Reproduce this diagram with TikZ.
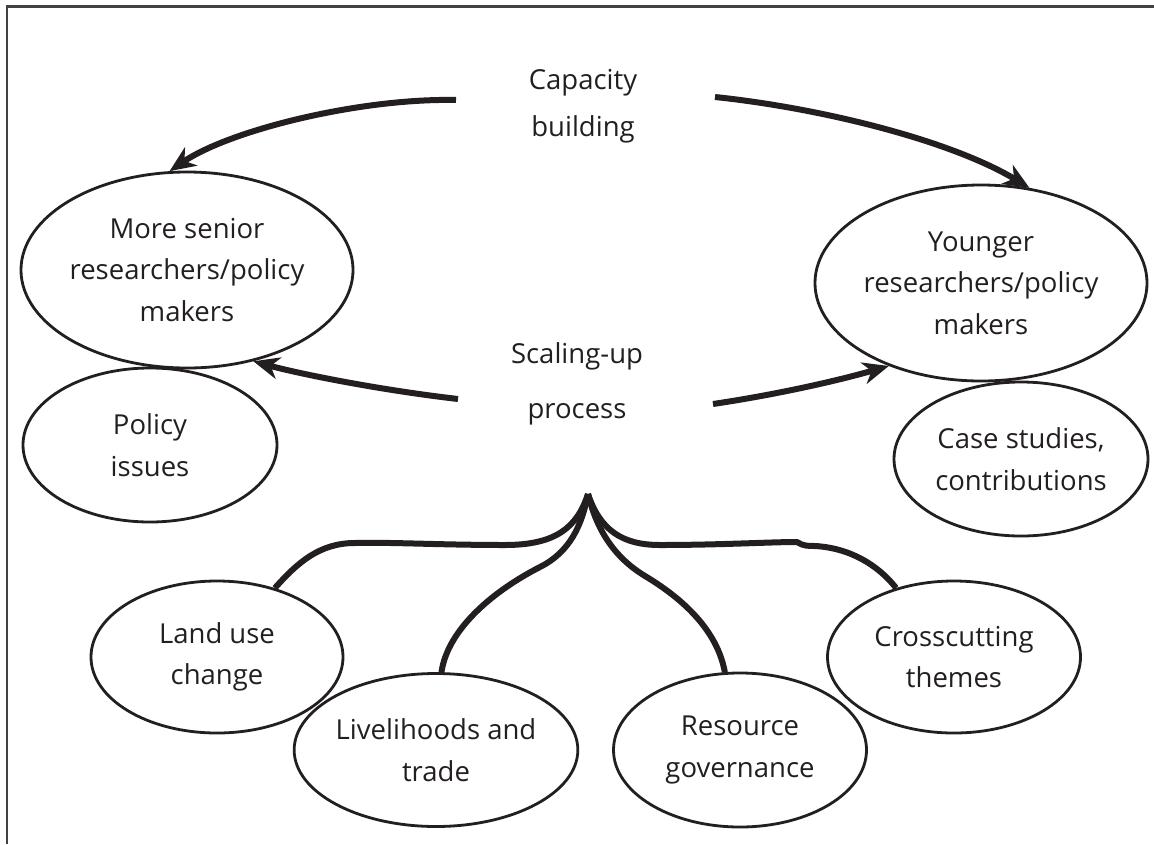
\documentclass[tikz,border=0pt]{standalone}
\usepackage{fontspec}
\setmainfont{Open Sans}
\usetikzlibrary{shapes.geometric,arrows.meta}
\definecolor{ink}{HTML}{231F20}
\begin{document}
\begin{tikzpicture}[x=1pt,y=-1pt,
  bub/.style={ellipse,draw=ink,line width=2.8pt,inner sep=0pt,align=center,
    text=ink,font=\fontsize{27.5}{41.5}\selectfont},
  lbl/.style={align=center,text=ink,font=\fontsize{27.5}{47}\selectfont},
  flow/.style={draw=ink,line width=6pt,-{Stealth[length=26pt,width=22pt,inset=8pt]}},
  branch/.style={draw=ink,line width=6pt,line join=round}
]
\useasboundingbox (0,0) rectangle (1154,844);
% open frame: top and left edges only
\draw[line width=2.5pt,draw=ink!85] (7,844) -- (7,6.5) -- (1154,6.5);

% central labels
\node[lbl] (cap) at (583,106) {Capacity\\building};
\node[lbl] (scale) at (577,384) {Scaling-up\\[8pt]process};

% groups of people
\node[bub,minimum width=328pt,minimum height=196pt] (senior) at (187,270)
  {More senior\\researchers/policy\\makers};
\node[bub,minimum width=332pt,minimum height=196pt] (younger) at (981,283)
  {Younger\\researchers/policy\\makers};
\node[bub,minimum width=254pt,minimum height=154pt] (policy) at (150,445)
  {Policy\\issues};
\node[bub,minimum width=254pt,minimum height=154pt] (cases) at (1021,459)
  {Case studies,\\contributions};

% themes
\node[bub,minimum width=252pt,minimum height=152pt] (land) at (217,657)
  {Land use\\change};
\node[bub,minimum width=252pt,minimum height=153pt] (live) at (436,750)
  {Livelihoods and\\trade};
\node[bub,minimum width=253pt,minimum height=154pt] (res) at (740,750)
  {Resource\\governance};
\node[bub,minimum width=253pt,minimum height=152pt] (cross) at (954,657)
  {Crosscutting\\themes};

% arrow start points beside the central labels
\coordinate (capL) at (456,100);
\coordinate (capR) at (715,97);
\coordinate (scL) at (458,399);
\coordinate (scR) at (713,404);
\coordinate (hub) at (588,494);

% capacity building arrows
\draw[flow] (capL) .. controls (360,98) and (230,130) .. (senior.100);
\draw[flow] (capR) .. controls (820,108) and (950,140) .. (younger.63);

% scaling-up arrows
\draw[flow] (scL) .. controls (380,390) and (300,374) .. (senior.-54);
\draw[flow] (scR) .. controls (780,394) and (840,380) .. (younger.222);

% branches from the scaling-up process to the themes
\draw[branch] (hub) .. controls (577,528) and (555,545) .. (505,545)
  .. controls (440,545) and (390,542) .. (355,543)
  .. controls (320,543) and (298,562) .. (land.50);
\draw[branch] (hub) .. controls (582,525) and (570,552) .. (540,567)
  .. controls (495,590) and (448,628) .. (live.86);
\draw[branch] (hub) .. controls (596,527) and (612,556) .. (645,576)
  .. controls (690,603) and (718,635) .. (res.101);
\draw[branch] (hub) .. controls (600,530) and (622,545) .. (660,545)
  .. controls (720,545) and (770,542) .. (797,542)
  .. controls (803,546) and (808,546) .. (815,546)
  .. controls (850,548) and (878,565) .. (cross.130);
\end{tikzpicture}
\end{document}
